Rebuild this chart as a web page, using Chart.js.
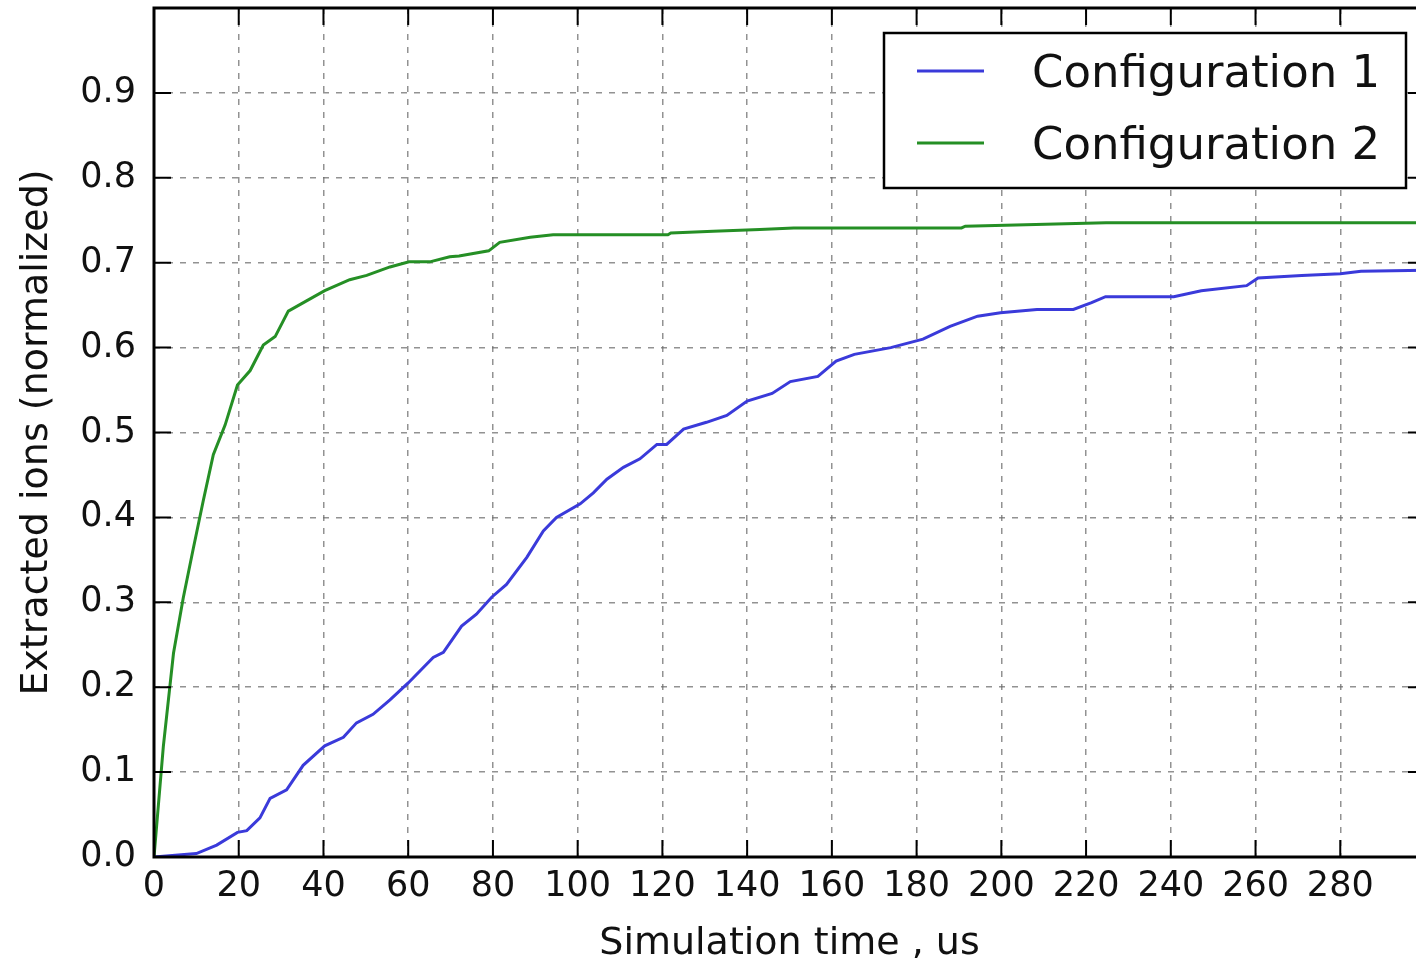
<!DOCTYPE html>
<html>
<head>
<meta charset="utf-8">
<script src="https://cdn.jsdelivr.net/npm/chart.js@4.4.0/dist/chart.umd.min.js"></script>
<style>
  html, body { margin: 0; padding: 0; background: #fff; overflow: hidden; }
  #wrap { width: 1440px; height: 963px; }
</style>
</head>
<body>
<div id="wrap"><canvas id="ionsChart" width="1440" height="963"></canvas></div>
<script>
// Configuration 1 (blue)
const time1 = [0, 5, 10, 14.8, 19.7, 21.9, 25, 27.4, 31.3, 35.2, 40.3, 44.7, 47.8, 51.7, 55.7, 60, 65.9, 68.3, 72.6, 76.1, 79.7, 83.2, 88, 91.9, 95, 100.6, 103.7, 106.9, 110.8, 114.7, 118.7, 121, 125, 130.4, 135.2, 140, 145.9, 150.2, 156.7, 161, 165.3, 173.9, 181.5, 187.9, 194.4, 199.8, 208.4, 217, 221.3, 224.6, 240.7, 247.2, 257.9, 260.6, 270.9, 280, 284.9, 300];
const ions1 = [0, 0.002, 0.004, 0.014, 0.029, 0.031, 0.046, 0.069, 0.079, 0.108, 0.131, 0.141, 0.158, 0.168, 0.185, 0.205, 0.235, 0.241, 0.272, 0.286, 0.306, 0.321, 0.353, 0.384, 0.400, 0.416, 0.429, 0.445, 0.459, 0.469, 0.486, 0.486, 0.504, 0.512, 0.520, 0.537, 0.546, 0.560, 0.566, 0.584, 0.592, 0.600, 0.610, 0.625, 0.637, 0.641, 0.645, 0.645, 0.653, 0.660, 0.660, 0.667, 0.673, 0.682, 0.685, 0.687, 0.690, 0.691];

// Configuration 2 (green)
const time2 = [0, 2.2, 4.6, 6.9, 9.3, 11.6, 14, 16.8, 19.7, 22.7, 25.8, 28.6, 31.7, 36, 40.3, 46.2, 50.2, 55.7, 60.2, 65.1, 69.8, 72, 79, 81.6, 88.8, 94.2, 121.3, 122, 132, 143, 151, 190.6, 191.5, 224.7, 300];
const ions2 = [0, 0.13, 0.24, 0.305, 0.364, 0.419, 0.474, 0.509, 0.556, 0.573, 0.603, 0.613, 0.643, 0.655, 0.667, 0.680, 0.685, 0.695, 0.701, 0.701, 0.707, 0.708, 0.714, 0.724, 0.730, 0.733, 0.733, 0.735, 0.737, 0.739, 0.741, 0.741, 0.743, 0.747, 0.747];

const seriesLabels = ['Configuration 1', 'Configuration 2'];
const xTicks = [0, 20, 40, 60, 80, 100, 120, 140, 160, 180, 200, 220, 240, 260, 280, 300];
const yTicks = [0, 0.1, 0.2, 0.3, 0.4, 0.5, 0.6, 0.7, 0.8, 0.9, 1.0];

const toPoints = (xs, ys) => xs.map((x, i) => ({ x: x, y: ys[i] }));
const FONT = 'DejaVu Sans';

// frame + inward ticks like matplotlib classic
const frameTicks = {
    id: 'frameTicks',
    afterDatasetsDraw(chart) {
        const { ctx, chartArea: a, scales } = chart;
        const len = 17;
        ctx.save();
        ctx.strokeStyle = '#000';
        ctx.lineWidth = 2;
        ctx.beginPath();
        xTicks.forEach(v => {
            const px = scales.x.getPixelForValue(v);
            ctx.moveTo(px, a.bottom); ctx.lineTo(px, a.bottom - len);
            ctx.moveTo(px, a.top); ctx.lineTo(px, a.top + len);
        });
        yTicks.forEach(v => {
            const py = scales.y.getPixelForValue(v);
            ctx.moveTo(a.left, py); ctx.lineTo(a.left + len, py);
            ctx.moveTo(a.right, py); ctx.lineTo(a.right - len, py);
        });
        ctx.stroke();
        ctx.lineWidth = 3;
        ctx.strokeRect(a.left, a.top, a.right - a.left, a.bottom - a.top);
        ctx.restore();
    }
};

// boxed legend in upper right
const boxLegend = {
    id: 'boxLegend',
    afterDraw(chart) {
        const { ctx } = chart;
        const bx = 884, by = 33, bw = 522, bh = 155;
        ctx.save();
        ctx.fillStyle = '#fff';
        ctx.fillRect(bx, by, bw, bh);
        ctx.strokeStyle = '#000';
        ctx.lineWidth = 2.5;
        ctx.strokeRect(bx, by, bw, bh);
        ctx.font = '45px "' + FONT + '"';
        ctx.textBaseline = 'alphabetic';
        ctx.textAlign = 'left';
        chart.data.datasets.forEach((ds, i) => {
            const ly = 71 + i * 72;
            ctx.strokeStyle = ds.borderColor;
            ctx.lineWidth = 3;
            ctx.beginPath();
            ctx.moveTo(917, ly); ctx.lineTo(984, ly);
            ctx.stroke();
            ctx.fillStyle = '#111';
            ctx.fillText(ds.label, 1032, ly + 16);
        });
        ctx.restore();
    }
};

const ctx = document.getElementById('ionsChart').getContext('2d');
new Chart(ctx, {
    type: 'line',
    data: {
        datasets: [
            {
                label: seriesLabels[0],
                data: toPoints(time1, ions1),
                borderColor: '#3a3ada',
                borderWidth: 3,
                pointRadius: 0,
                tension: 0,
                fill: false
            },
            {
                label: seriesLabels[1],
                data: toPoints(time2, ions2),
                borderColor: '#258f25',
                borderWidth: 3,
                pointRadius: 0,
                tension: 0,
                fill: false
            }
        ]
    },
    options: {
        responsive: false,
        animation: false,
        layout: { padding: { top: 8, right: 15, left: 0, bottom: 0 } },
        plugins: {
            legend: { display: false },
            tooltip: { enabled: false }
        },
        scales: {
            x: {
                type: 'linear',
                min: 0,
                max: 300,
                afterBuildTicks: s => { s.ticks = xTicks.map(v => ({ value: v })); },
                ticks: {
                    autoSkip: false,
                    maxRotation: 0,
                    padding: 9,
                    color: '#111',
                    font: { family: FONT, size: 35 },
                    callback: v => (v === 300 ? '' : String(v))
                },
                grid: { color: 'rgba(110,110,110,0.75)', lineWidth: 1.5, drawTicks: false },
                border: { display: false, dash: [6, 7] },
                title: {
                    display: true,
                    text: 'Simulation time , us',
                    color: '#111',
                    font: { family: FONT, size: 38, lineHeight: 1 },
                    padding: { top: 0, bottom: 0 }
                },
                afterFit: s => { s.height = 106; s.paddingLeft = 0; s.paddingRight = 0; }
            },
            y: {
                min: 0,
                max: 1,
                afterBuildTicks: s => { s.ticks = yTicks.map(v => ({ value: v })); },
                ticks: {
                    padding: 18,
                    color: '#111',
                    font: { family: FONT, size: 35 },
                    callback: v => (Math.abs(v - 1) < 1e-9 ? '' : v.toFixed(1))
                },
                grid: { color: 'rgba(110,110,110,0.75)', lineWidth: 1.5, drawTicks: false },
                border: { display: false, dash: [6, 7] },
                title: {
                    display: true,
                    text: 'Extracted ions (normalized)',
                    color: '#111',
                    font: { family: FONT, size: 38, lineHeight: 1 },
                    padding: { top: 18, bottom: 0 }
                },
                afterFit: s => { s.width = 154; s.paddingTop = 0; s.paddingBottom = 0; }
            }
        }
    },
    plugins: [frameTicks, boxLegend]
});
</script>
</body>
</html>
